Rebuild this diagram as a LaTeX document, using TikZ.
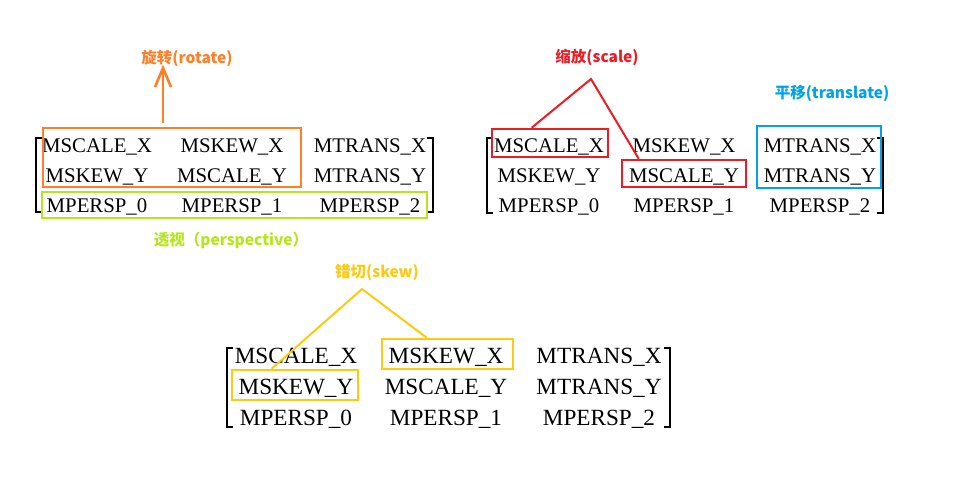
\documentclass[tikz,border=0pt]{standalone}
\usepackage{fontspec}
\setmainfont{Liberation Serif}
\newfontfamily\cjk{Noto Sans CJK SC}
\definecolor{rotcol}{HTML}{FF7F27}
\definecolor{percol}{HTML}{B5E61D}
\definecolor{scacol}{HTML}{ED1C24}
\definecolor{tracol}{HTML}{00A2E8}
\definecolor{skecol}{HTML}{FFC90E}
\tikzset{
  entry/.style = {anchor = base, inner sep = 0pt, font = \fontsize{20.8}{22}\selectfont},
  bigentry/.style = {anchor = base, inner sep = 0pt, font = \fontsize{23.2}{25}\selectfont},
  bracket/.style = {line width = 2pt},
  box/.style = {draw = #1, line width = 2.6pt, inner sep = 0pt},
  tag/.style = {text = #1, inner sep = 1pt, font = \cjk\bfseries\fontsize{15.5}{17}\selectfont},
  link/.style = {draw = #1, line width = 2pt}
}
\begin{document}
\begin{tikzpicture}[x = 1pt, y = -1pt]
    \useasboundingbox (0,0) rectangle (953,477);
    % the same matrix three times
    \foreach \a/\b/\c [count = \r] in {MSCALE\_X/MSKEW\_X/MTRANS\_X, MSKEW\_Y/MSCALE\_Y/MTRANS\_Y, MPERSP\_0/MPERSP\_1/MPERSP\_2}{
        \node[entry] (A\r1) at (97,122+30*\r) {\a};
        \node[entry] (A\r2) at (232,122+30*\r) {\b};
        \node[entry] (A\r3) at (370,122+30*\r) {\c};
        \node[entry] (B\r1) at (549,122+30*\r) {\a};
        \node[entry] (B\r2) at (684,122+30*\r) {\b};
        \node[entry] (B\r3) at (820,122+30*\r) {\c};
        \node[bigentry] (C\r1) at (296,332+31*\r) {\a};
        \node[bigentry] (C\r2) at (446,332+31*\r) {\b};
        \node[bigentry] (C\r3) at (599,332+31*\r) {\c};
    }
    \draw[bracket] (42,138) -- (36,138) -- (36,212) -- (42,212);
    \draw[bracket] (427,138) -- (433,138) -- (433,212) -- (427,212);
    \draw[bracket] (493,138) -- (487,138) -- (487,213) -- (493,213);
    \draw[bracket] (877,138) -- (883,138) -- (883,213) -- (877,213);
    \draw[bracket] (233,348) -- (227,348) -- (227,427) -- (233,427);
    \draw[bracket] (664,348) -- (670,348) -- (670,427) -- (664,427);

    % rotate and perspective
    \node[box = rotcol, minimum width = 258, minimum height = 59] (rotbox) at (172,157.5) {};
    \node[box = percol, minimum width = 385, minimum height = 26] (perbox) at (234.5,205) {};
    \node[tag = rotcol] (rotlabel) at (187,58) {旋转(rotate)};
    \node[tag = percol] (perlabel) at (231,240) {透视（perspective）};
    \coordinate (rotfoot) at (163,123);
    \coordinate (rottip) at (163,68);
    \draw[link = rotcol, line width = 2.6pt] (rotfoot) -- (rottip);
    \draw[link = rotcol, line width = 2.6pt] ([shift = {(-8,19)}]rottip) -- (rottip) -- ([shift = {(8,19)}]rottip);

    % scale and translate
    \node[box = scacol, minimum width = 116, minimum height = 28] (scx) at (550,143) {};
    \node[box = scacol, minimum width = 124, minimum height = 27] (scy) at (684,173.5) {};
    \node[box = tracol, minimum width = 124, minimum height = 62] (trbox) at (819,157) {};
    \node[tag = scacol] (sclabel) at (597,57) {缩放(scale)};
    \node[tag = tracol] (trlabel) at (832,93) {平移(translate)};
    \coordinate (scatip) at (591,79);
    \draw[link = scacol] ([xshift = 41pt]scx.north west) -- (scatip) -- ([xshift = 18pt]scy.north west);

    % skew
    \node[box = skecol, minimum width = 131, minimum height = 30] (skx) at (447.5,354) {};
    \node[box = skecol, minimum width = 126, minimum height = 30] (sky) at (295,385) {};
    \node[tag = skecol] (sklabel) at (377,272) {错切(skew)};
    \coordinate (sketip) at (362,289);
    \draw[link = skecol] ([xshift = 41pt]sky.north west) -- (sketip) -- ([xshift = 46pt]skx.north west);
\end{tikzpicture}
\end{document}
